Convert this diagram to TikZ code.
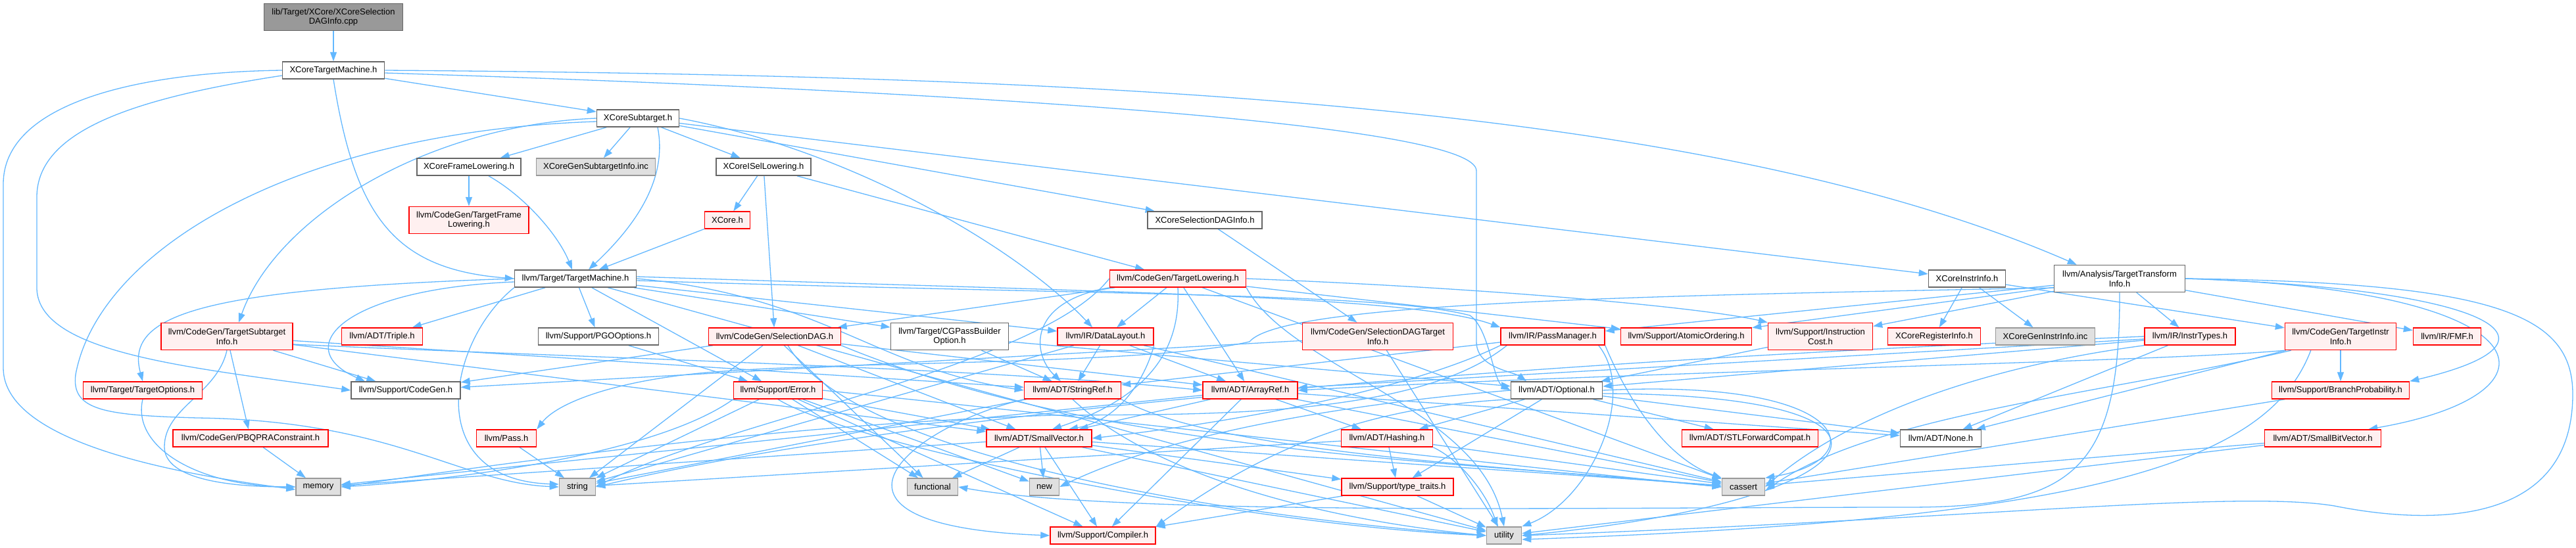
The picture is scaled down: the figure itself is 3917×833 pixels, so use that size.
\documentclass[tikz,border=0pt]{standalone}
\usepackage{fontspec}
\setmainfont{Liberation Sans}
\usetikzlibrary{arrows.meta}
\definecolor{edgec}{HTML}{63B8FF}
\definecolor{redb}{HTML}{FF0000}
\definecolor{redf}{HTML}{FFF0F0}
\definecolor{grayf}{HTML}{E0E0E0}
\definecolor{grayb}{HTML}{999999}
\definecolor{wb}{HTML}{666666}
\definecolor{mainf}{HTML}{999999}
\pgfdeclarelayer{bglayer}
\pgfdeclarelayer{edgelayer}
\pgfsetlayers{bglayer,edgelayer,main}
\begin{document}
\begin{tikzpicture}[x=1pt,y=-1pt,
 box/.style={rectangle, minimum height=26pt, inner xsep=2pt, inner ysep=1pt, align=center, font=\fontsize{13}{14.7}\selectfont, line width=1.5pt},
 wn/.style={box, draw=wb, fill=white},
 rn/.style={box, draw=redb, fill=redf},
 gn/.style={box, draw=grayb, fill=grayf},
 mainn/.style={box, draw=wb, fill=mainf},
 tall/.style={minimum height=41pt},
 dep/.style={draw=edgec, line width=1.3pt, -{Triangle[length=14pt,width=10pt]}},
]
\useasboundingbox (0,0) rectangle (3917,833);
\begin{pgfonlayer}{bglayer}
\fill[white] (0,0) rectangle (3917,833);
\end{pgfonlayer}
% nodes
\node[mainn, tall, minimum width=211pt] (cpp) at (507,26) {lib/Target/XCore/XCoreSelection\\DAGInfo.cpp};
\node[wn, minimum width=155pt] (xctm) at (507,107) {XCoreTargetMachine.h};
\node[wn, minimum width=125pt] (xsub) at (970,180) {XCoreSubtarget.h};
\node[wn, minimum width=158pt] (xfl) at (713,254) {XCoreFrameLowering.h};
\node[gn, minimum width=181pt] (xgsi) at (906,254) {XCoreGenSubtargetInfo.inc};
\node[wn, minimum width=144pt] (xisel) at (1161,254) {XCoreISelLowering.h};
\node[rn, tall, minimum width=182pt] (tfl) at (713,335) {llvm/CodeGen/TargetFrame\\Lowering.h};
\node[rn, minimum width=69pt] (xcore) at (1106,335) {XCore.h};
\node[wn, minimum width=174pt] (xsdi) at (1832,335) {XCoreSelectionDAGInfo.h};
\node[wn, minimum width=185pt] (tm) at (875,424) {llvm/Target/TargetMachine.h};
\node[rn, minimum width=207pt] (tl) at (1791,424) {llvm/CodeGen/TargetLowering.h};
\node[wn, minimum width=117pt] (xii) at (2991,424) {XCoreInstrInfo.h};
\node[wn, tall, minimum width=199pt] (tti) at (3223,424) {llvm/Analysis/TargetTransform\\Info.h};
\node[rn, tall, minimum width=200pt] (tsi) at (345,512) {llvm/CodeGen/TargetSubtarget\\Info.h};
\node[rn, minimum width=123pt] (triple) at (581,512) {llvm/ADT/Triple.h};
\node[wn, minimum width=183pt] (pgo) at (910,512) {llvm/Support/PGOOptions.h};
\node[rn, minimum width=201pt] (sdag) at (1178,512) {llvm/CodeGen/SelectionDAG.h};
\node[wn, tall, minimum width=179pt] (cgpbo) at (1444,512) {llvm/Target/CGPassBuilder\\Option.h};
\node[rn, minimum width=146pt] (dl) at (1681,512) {llvm/IR/DataLayout.h};
\node[rn, tall, minimum width=229pt] (sdti) at (2095,512) {llvm/CodeGen/SelectionDAGTarget\\Info.h};
\node[rn, minimum width=158pt] (pm) at (2361,512) {llvm/IR/PassManager.h};
\node[rn, minimum width=199pt] (ao) at (2564,512) {llvm/Support/AtomicOrdering.h};
\node[rn, tall, minimum width=159pt] (ic) at (2768,512) {llvm/Support/Instruction\\Cost.h};
\node[rn, minimum width=141pt] (xri) at (2941,512) {XCoreRegisterInfo.h};
\node[gn, minimum width=151pt] (xgii) at (3110,512) {XCoreGenInstrInfo.inc};
\node[rn, minimum width=138pt] (it) at (3330,512) {llvm/IR/InstrTypes.h};
\node[rn, tall, minimum width=169pt] (tii) at (3559,512) {llvm/CodeGen/TargetInstr\\Info.h};
\node[rn, minimum width=103pt] (fmf) at (3721,512) {llvm/IR/FMF.h};
\node[rn, minimum width=181pt] (topt) at (217,594) {llvm/Target/TargetOptions.h};
\node[wn, minimum width=166pt] (cg) at (617,594) {llvm/Support/CodeGen.h};
\node[rn, minimum width=135pt] (err) at (1183,594) {llvm/Support/Error.h};
\node[rn, minimum width=147pt] (sr) at (1631,594) {llvm/ADT/StringRef.h};
\node[rn, minimum width=144pt] (ar) at (1901,594) {llvm/ADT/ArrayRef.h};
\node[wn, minimum width=139pt] (opt) at (2367,594) {llvm/ADT/Optional.h};
\node[rn, minimum width=209pt] (bp) at (3559,594) {llvm/Support/BranchProbability.h};
\node[rn, minimum width=236pt] (pbqp) at (381,667) {llvm/CodeGen/PBQPRAConstraint.h};
\node[rn, minimum width=91pt] (pass) at (770,667) {llvm/Pass.h};
\node[rn, minimum width=160pt] (sv) at (1580,667) {llvm/ADT/SmallVector.h};
\node[rn, minimum width=139pt] (hash) at (2109,667) {llvm/ADT/Hashing.h};
\node[rn, minimum width=207pt] (stl) at (2661,667) {llvm/ADT/STLForwardCompat.h};
\node[wn, minimum width=123pt] (nnone) at (2951,667) {llvm/ADT/None.h};
\node[rn, minimum width=177pt] (sbv) at (3532,667) {llvm/ADT/SmallBitVector.h};
\node[gn, minimum width=68pt] (mem) at (484,741) {memory};
\node[gn, minimum width=55pt] (str) at (878,741) {string};
\node[gn, minimum width=77pt] (func) at (1418,741) {functional};
\node[gn, minimum width=45pt] (nnew) at (1588,741) {new};
\node[gn, minimum width=65pt] (cass) at (2651,741) {cassert};
\node[rn, minimum width=170pt] (tt) at (2125,741) {llvm/Support/type\_traits.h};
\node[gn, minimum width=53pt] (util) at (2287,815) {utility};
\node[rn, minimum width=160pt] (comp) at (1677,815) {llvm/Support/Compiler.h};
% edges
\begin{pgfonlayer}{edgelayer}
\draw[dep] (cpp) -- (xctm);
% XCoreTargetMachine.h
\draw[dep] (xctm) -- (xsub);
\draw[dep] (xctm.south) .. controls (540,330) and (600,410) .. (tm.west);
\draw[dep] (xctm.east) .. controls (1700,115) and (2600,160) .. ([xshift=35pt]tti.north west);
\draw[dep] ([yshift=-4pt]xctm.east) .. controls (1500,140) and (2245,190) .. (2245,260) -- (2245,520) .. controls (2245,560) and (2300,565) .. ([xshift=-46pt]opt.north);
\draw[dep] (xctm.west) .. controls (200,110) and (5,160) .. (5,280) -- (5,560) .. controls (5,680) and (300,725) .. ([yshift=-4pt]mem.west);
\draw[dep] ([yshift=-8pt]xctm.west) .. controls (200,150) and (56,200) .. (56,300) -- (56,440) .. controls (60,540) and (300,560) .. (cg.west);
% XCoreSubtarget.h
\draw[dep] (xsub) -- (xfl);
\draw[dep] (xsub) -- (xgsi);
\draw[dep] (xsub) -- (xisel);
\draw[dep] (xsub) -- (xsdi);
\draw[dep] (xsub) -- (xii);
\draw[dep] (xsub.west) .. controls (650,190) and (420,330) .. ([xshift=18pt]tsi.north);
\draw[dep] ([yshift=-5pt]xsub.west) .. controls (450,200) and (150,380) .. (115,570) .. controls (108,625) and (160,632) .. (300,636) .. controls (600,640) and (700,735) .. (str.west);
\draw[dep] ([xshift=30pt]xsub.south) .. controls (1015,270) and (970,340) .. ([xshift=20pt]tm.north);
\draw[dep] (xsub.east) .. controls (1300,230) and (1550,380) .. ([xshift=-20pt]dl.north);
% XCoreFrameLowering.h
\draw[dep] (xfl) -- (tfl);
\draw[dep] ([xshift=30pt]xfl.south) .. controls (800,300) and (850,360) .. ([xshift=-5pt]tm.north);
% XCoreISelLowering.h
\draw[dep] (xisel) -- (xcore);
\draw[dep] (xisel) -- (sdag);
\draw[dep] (xisel) -- (tl);
\draw[dep] (xcore) -- (tm);
\draw[dep] (xsdi) -- (sdti);
% XCoreInstrInfo.h
\draw[dep] (xii) -- (xri);
\draw[dep] (xii) -- (xgii);
\draw[dep] (xii) -- (tii);
% TargetMachine.h
\draw[dep] (tm.west) .. controls (300,440) and (190,480) .. (topt.north);
\draw[dep] ([yshift=-5pt]tm.west) .. controls (520,440) and (440,530) .. ([xshift=-62pt]cg.north);
\draw[dep] (tm) -- (triple);
\draw[dep] (tm) -- (pgo);
\draw[dep] (tm.south west) .. controls (680,520) and (640,730) .. ([yshift=4pt]str.west);
\draw[dep] (tm) -- (err);
\draw[dep] (tm.east) .. controls (1250,450) and (1330,560) .. (sr.west);
\draw[dep] (tm) -- (dl);
\draw[dep] (tm) -- (cgpbo);
\draw[dep] ([yshift=3pt]tm.east) .. controls (1700,445) and (2150,450) .. (pm.north west);
\draw[dep] ([yshift=-3pt]tm.east) .. controls (1700,450) and (2100,445) .. (2235,480) .. controls (2265,500) and (2270,580) .. (opt.west);
\draw[dep] (tm) -- (util);
% TargetTransformInfo.h
\draw[dep] (tti) -- (it);
\draw[dep] (tti) -- (fmf);
\draw[dep] (tti.east) .. controls (3800,440) and (3920,520) .. (bp.north east);
\draw[dep] (tti.east) .. controls (3880,440) and (3910,600) .. ([xshift=-20pt]sbv.north east);
\draw[dep] (tti.east) .. controls (3800,430) and (3912,480) .. (3912,600) .. controls (3912,800) and (3700,800) .. (3550,770) .. controls (3400,745) and (3000,790) .. (util.east);
\draw[dep] ([yshift=-14pt]tti.west) .. controls (2500,450) and (1950,460) .. (1900,520) .. controls (1750,555) and (1300,550) .. (1100,565) .. controls (950,575) and (850,610) .. (pass.north east);
\draw[dep] (tti) -- (pm);
\draw[dep] (tti) -- (ao);
\draw[dep] (tti) -- (ic);
\draw[dep] (tti.south) .. controls (3224,720) and (3150,772) .. (2900,772) .. controls (2400,772) and (1700,785) .. (func.east);
% TargetLowering.h
\draw[dep] (tl) -- (sdag);
\draw[dep] (tl) -- (dl);
\draw[dep] (tl.south west) .. controls (1560,460) and (1570,540) .. ([xshift=-18pt]sr.north);
\draw[dep] (tl.south) .. controls (1795,520) and (1760,600) .. ([xshift=20pt]sv.north);
\draw[dep] (tl) -- (ar);
\draw[dep] (tl) -- (ao);
\draw[dep] (tl.east) .. controls (2300,440) and (2600,470) .. (ic.north west);
\draw[dep] (tl) -- (cass);
\draw[dep] (tl.west) .. controls (1580,560) and (1100,640) .. (str.east);
\draw[dep] (tl.south east) .. controls (1960,560) and (2250,620) .. (util.north);
% SelectionDAG.h
\draw[dep] (sdag) -- (ar);
\draw[dep] (sdag) -- (sv);
\draw[dep] (sdag) -- (cg);
\draw[dep] (sdag.south east) .. controls (1700,700) and (2300,705) .. (cass.west);
\draw[dep] (sdag) -- (func);
\draw[dep] (sdag) -- (str);
\draw[dep] ([xshift=20pt]sdag.south) .. controls (1300,700) and (1900,790) .. (util.west);
% TargetSubtargetInfo.h
\draw[dep] ([yshift=-12pt]tsi.east) .. controls (900,545) and (1500,560) .. (ar.west);
\draw[dep] (tsi) -- (sv);
\draw[dep] (tsi) -- (sr);
\draw[dep] (tsi) -- (pbqp);
\draw[dep] (tsi) -- (cg);
\draw[dep] (tsi.south) .. controls (330,600) and (250,620) .. (250,680) .. controls (250,730) and (350,741) .. (mem.west);
% others
\draw[dep] (pgo) -- (err);
\draw[dep] (cgpbo) -- (opt);
\draw[dep] (cgpbo) -- (sr);
\draw[dep] (dl) -- (sr);
\draw[dep] (dl.south east) .. controls (1740,580) and (1700,640) .. ([xshift=45pt]sv.north);
\draw[dep] (dl) -- (ar);
\draw[dep] (dl) -- (cass);
\draw[dep] (dl) -- (str);
\draw[dep] (sdti) -- (cg);
\draw[dep] (sdti) -- (util);
% PassManager.h
\draw[dep] (pm.south west) .. controls (2150,590) and (1900,640) .. (sv.east);
\draw[dep] ([xshift=10pt]pm.south west) .. controls (2150,640) and (1800,630) .. (1600,632) .. controls (1200,645) and (800,700) .. (mem.east);
\draw[dep] (pm) -- (sr);
\draw[dep] (pm.south east) .. controls (2480,620) and (2540,700) .. (cass.north west);
\draw[dep] ([xshift=-10pt]pm.south east) .. controls (2490,600) and (2420,760) .. (util.north east);
\draw[dep] (ic) -- (opt);
% InstrTypes.h
\draw[dep] (it) -- (ar);
\draw[dep] (it) -- (nnone);
\draw[dep] (it) -- (opt);
\draw[dep] (it.south west) .. controls (3000,560) and (2800,640) .. (cass.east);
\draw[dep] (it.west) .. controls (2600,540) and (1500,600) .. (str.east);
% TargetInstrInfo.h
\draw[dep] (tii.south west) .. controls (3300,550) and (2500,565) .. (ar.east);
\draw[dep] (tii) -- (nnone);
\draw[dep] (tii) -- (bp);
\draw[dep] ([xshift=10pt]tii.south west) .. controls (3200,600) and (2850,630) .. ([yshift=-6pt]cass.east);
\draw[dep] ([xshift=40pt]tii.south west) .. controls (3450,700) and (3200,790) .. ([yshift=-6pt]util.east);
\draw[dep] (bp) -- (cass);
\draw[dep] (sbv) -- (cass);
\draw[dep] (sbv) -- (util);
% Optional.h
\draw[dep] (opt) -- (hash);
\draw[dep] (opt) -- (nnone);
\draw[dep] (opt) -- (stl);
\draw[dep] (opt) -- (tt);
\draw[dep] (opt.south west) .. controls (2050,620) and (1900,700) .. (comp.north east);
\draw[dep] (opt.east) .. controls (2820,575) and (2850,700) .. (cass.north east);
\draw[dep] (opt.west) .. controls (2100,610) and (1800,650) .. (nnew.east);
\draw[dep] ([yshift=-5pt]opt.east) .. controls (2950,600) and (2880,760) .. (util.east);
% Hashing.h
\draw[dep] (hash) -- (tt);
\draw[dep] (hash) -- (cass);
\draw[dep] (hash) -- (str);
\draw[dep] (hash.south east) .. controls (2220,700) and (2260,750) .. ([xshift=-10pt]util.north);
% SmallVector.h
\draw[dep] (sv) -- (comp);
\draw[dep] (sv) -- (tt);
\draw[dep] (sv) -- (cass);
\draw[dep] (sv) -- (func);
\draw[dep] (sv) -- (mem);
\draw[dep] (sv) -- (nnew);
\draw[dep] (sv) -- (util);
% Error.h
\draw[dep] (err) -- (sv);
\draw[dep] (err) -- (comp);
\draw[dep] (err.east) .. controls (1700,640) and (2300,710) .. (cass.west);
\draw[dep] (err) -- (func);
\draw[dep] (err) -- (nnew);
\draw[dep] (err.south west) .. controls (1000,690) and (700,730) .. (mem.east);
\draw[dep] (err) -- (str);
\draw[dep] (err.south) .. controls (1300,680) and (1900,800) .. (util.west);
% StringRef.h
\draw[dep] (sr.south west) .. controls (1380,650) and (1200,800) .. (comp.west);
\draw[dep] (sr.south east) .. controls (1850,690) and (2300,710) .. (cass.west);
\draw[dep] (sr) -- (str);
\draw[dep] (sr.south) .. controls (1750,720) and (2000,790) .. (util.west);
% ArrayRef.h
\draw[dep] (ar) -- (hash);
\draw[dep] (ar) -- (nnone);
\draw[dep] (ar) -- (sv);
\draw[dep] (ar) -- (comp);
\draw[dep] (ar) -- (cass);
\draw[dep] (ar) -- (mem);
% misc
\draw[dep] (tt) -- (comp);
\draw[dep] (tt) -- (util);
\draw[dep] (pass) -- (str);
\draw[dep] (pbqp) -- (mem);
\draw[dep] (topt.south) .. controls (200,680) and (300,740) .. (mem.west);
\end{pgfonlayer}
\end{tikzpicture}
\end{document}
